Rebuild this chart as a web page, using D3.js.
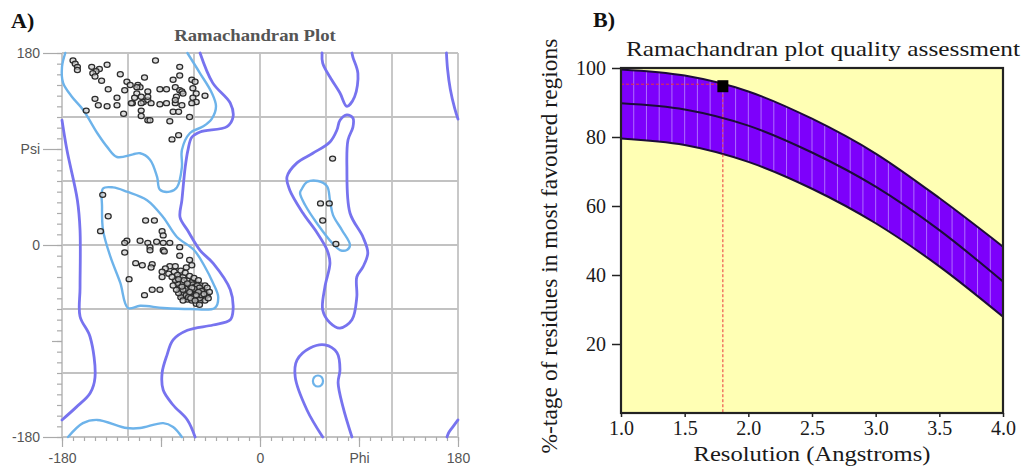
<!DOCTYPE html>
<html>
<head>
<meta charset="utf-8">
<script src="https://cdn.jsdelivr.net/npm/d3@7"></script>
<style>
  body { margin: 0; background: #fff; }
  svg { display: block; }
</style>
</head>
<body>
<svg id="fig" width="1028" height="473"></svg>
<script>
// ── Panel A data: Ramachandran contours (phi, psi in degrees) ─────────────
const allowedEdgeTopRight = [[169.5,180],[170.5,165],[173,146],[177,128],[180,118]];
const allowedEdgeLeft = [[-180,117],[-175.5,89],[-166,42],[-163.6,14],[-163.6,-40],[-163.6,-67],
  [-154.5,-86],[-150,-124],[-154.5,-139],[-167,-152],[-180,-164]];
const allowedEdgeBottomRight = [[180,-164],[175,-171],[171.5,-176],[170,-180]];
const allowedBetaRight = [[-54.5,180],[-43,152],[-27,133],[-24.5,120],[-30,111],[-54.5,106],[-62,101],
  [-65.5,89],[-68,73],[-71,42],[-72.7,26],[-66,14],[-54.5,-5],[-42.7,-17],[-27,-42],[-24.5,-61],
  [-27,-70],[-42.7,-75],[-66,-80],[-79,-89],[-84.5,-103],[-89,-120],[-88,-136],[-79,-150],[-66,-164],[-59,-180]];
const allowedGammaTop = [[56.4,180],[57,170.6],[63.6,157.5],[72.7,142.5],[79,130],[86,139],[89,161],[84.5,176],[83.6,180]];
const allowedGammaBottom = [[57,-180],[42.7,-154.7],[32,-123.7],[33.6,-108],[45.5,-96.6],[59,-93.7],
  [70,-101],[72.7,-117],[71,-129],[75.5,-152],[83.6,-180]];
const allowedLeftAlpha = [[79,122],[72.7,117],[70,108],[63.6,96.6],[48,86],[33.6,77],[24.5,63.7],[27,51.6],
  [39,30],[52,11.3],[61,-4.7],[63.6,-16.9],[59,-39.4],[57,-61],[63.6,-73],[72.7,-78],[83.6,-70],[88,-48.7],
  [88,-30],[93.6,-20.6],[98,-7.5],[93.6,7.5],[81.8,30],[79,73],[80,98.4],[84.5,110.6],[84.5,119]];

const coreBeta = [[-177,180],[-180,167],[-179,152],[-171,139],[-161,127],[-148,105],[-139,92],[-130,82.5],
  [-115.5,85],[-109,86],[-100,80],[-93.6,64],[-91,52],[-82,50],[-75.5,54],[-71,73],[-71,89],[-63.6,105],
  [-52,111],[-44,118],[-40,130],[-44,143],[-54.5,161],[-66,180]];
const coreBetaWrap = [[-174.5,-180],[-161,-167],[-148,-164],[-121,-171.6],[-109,-171.6],[-88,-167],[-79,-170.6],[-71,-180]];
const coreAlpha = [[-142.7,53],[-133.6,54],[-121,50],[-102.7,42],[-88,26],[-75.5,7.5],[-60,-4.7],[-50,-20.6],
  [-42.7,-35.6],[-38,-48.7],[-41,-59],[-63.6,-60],[-88,-59],[-109,-57],[-120,-59],[-127,-35.6],[-136,-11],
  [-142.7,14],[-143.6,35.6]];
const coreLeftAlpha = [[38,52.5],[42.7,59],[52.7,60],[61,55],[63.6,42],[66.4,28],[74.5,14],[81.8,0],[79,-4.7],
  [72.7,-4.7],[65.5,2],[52.7,19],[41,37.5],[36.4,48.7]];
const coreSmall = [[52.7,-127.5,4.6]];

// ── Panel A data: residues (phi, psi) ─────────────────────────────────────
const betaResidues = [[-170,173],[-168,170],[-166,167],[-166,164],[-153,167],[-139,169],[-146,165],[-149,163],
  [-152,161],[-150,158],[-144,154],[-127,160],[-95,173],[-73,167],[-73,159],[-79,155],[-62,155],[-59,153],
  [-105,157],[-121,153],[-118,150],[-111,150],[-109,148],[-138,146],[-123,145],[-112,142],[-102,144],[-91,146],
  [-85,146],[-77,148],[-73,145],[-71,144],[-58,142],[-50,140],[-150,137],[-147,131],[-139,130],[-130,138],
  [-130,131],[-124,123],[-116,133],[-114,138],[-108,139],[-106,134],[-102,136],[-99,133],[-91,132],[-108,126],
  [-108,121],[-102,117],[-100,117],[-82,116],[-77,133],[-76,139],[-71,131],[-79,125],[-74,125],[-64,120],
  [-61,138],[-58,134],[-158,126],[-80,99],[-74,103],[-112,148],[-117,133],[-108,133],[-102,139],[-85,133],
  [-77,136],[-62,133],[-61,147],[-70,142]];
const alphaResidues = [[-143,47],[-138,27],[-145,13],[-104,23],[-96,23],[-89,13],[-88,9],[-121,4],[-123,2],
  [-109,4],[-102,2],[-100,-2],[-94,3],[-88,2],[-82,2],[-88,-5],[-87,-6],[-100,-5],[-123,-7],[-73,-2],[-73,-10],
  [-113,-17],[-107,-19],[-98,-18],[-99,-21],[-82,-20],[-77,-20],[-86,-22],[-89,-25],[-83,-27],[-89,-30],
  [-64,-14],[-62,-19],[-67,-21],[-119,-32],[-98,-42],[-91,-42],[-105,-47],[-73,-30],[-76,-33],[-73,-39],[-71,-47]];
const helixCluster = [[-78,-25],[-75,-28],[-72,-24],[-70,-30],[-68,-26],[-66,-33],[-64,-29],[-62,-35],[-60,-31],
  [-58,-36],[-56,-33],[-54,-38],[-52,-41],[-50,-44],[-48,-47],[-50,-38],[-53,-45],[-55,-42],[-57,-40],[-59,-44],
  [-61,-41],[-63,-39],[-65,-37],[-67,-41],[-69,-38],[-71,-35],[-73,-40],[-75,-36],[-77,-33],[-66,-45],[-64,-47],
  [-62,-45],[-60,-48],[-58,-50],[-56,-47],[-54,-52],[-52,-49],[-60,-38],[-58,-42],[-62,-43],[-64,-42],[-66,-39],
  [-68,-44],[-70,-46],[-72,-49],[-66,-51],[-62,-52],[-58,-55],[-55,-56],[-50,-52],[-48,-40],[-46,-44],[-47,-50],
  [-70,-52],[-74,-45],[-76,-42],[-79,-38],[-80,-30],[-74,-32],[-69,-33],
  [-61,-37],[-59,-39],[-57,-38],[-55,-40],[-63,-41],[-61,-44],[-59,-46],[-57,-44],[-55,-45],[-53,-43],
  [-65,-43],[-63,-46],[-61,-49],[-57,-48],[-55,-50],[-53,-47],[-51,-46],[-67,-47],[-65,-49],[-63,-50],
  [-59,-52],[-60,-41],[-62,-40],[-56,-44],[-58,-47],[-64,-44],[-68,-41],[-66,-36],[-70,-42],[-71,-39]];
const leftHandedResidues = [[66,81],[55,39],[63,39],[57,23],[69,1]];

const psiTickLabels = [[180,"180"],[90,"Psi"],[0,"0"],[-180,"-180"]];
const phiTickLabels = [[-180,"-180"],[0,"0"],[90,"Phi"],[180,"180"]];

// ── Panel B data: quality assessment ──────────────────────────────────────
const resolution = [1.0, 1.5, 2.0, 2.5, 3.0, 3.5, 4.0];
const upperLimit = [99.6, 97.8, 93.2, 85.3, 75.2, 62.3, 48.2];
const meanLine   = [89.8, 88.0, 83.3, 75.5, 65.6, 53.0, 38.1];
const lowerLimit = [79.6, 77.7, 72.8, 65.0, 55.0, 42.5, 27.9];
const structureRes = 1.8;
const structurePct = 95.3;
const resTicks = [1.0, 1.5, 2.0, 2.5, 3.0, 3.5, 4.0];
const pctTicks = [20, 40, 60, 80, 100];

// ── Setup ─────────────────────────────────────────────────────────────────
const svg = d3.select("#fig");
const SERIF = "'Liberation Serif','Times New Roman',serif";
const SANS  = "'Liberation Sans',Arial,sans-serif";

function stretchText(parent, x, y, str, sx, attrs) {
  const t = parent.append("text")
    .attr("transform", `translate(${x},${y}) scale(${sx},1)`)
    .text(str);
  Object.entries(attrs).forEach(([k, v]) => t.attr(k, v));
  return t;
}

// ══ Panel A ═══════════════════════════════════════════════════════════════
const gA = svg.append("g");
const xA = d3.scaleLinear().domain([-180, 180]).range([62, 458]);
const yA = d3.scaleLinear().domain([-180, 180]).range([437, 53]);
const GRID = "#c2c2c2";

stretchText(gA, 11, 28, "A)", 1.1, {"font-family": SERIF, "font-size": 20, "font-weight": "bold", fill: "#111"});
stretchText(gA, 255, 41, "Ramachandran Plot", 1.17,
  {"font-family": SERIF, "font-size": 16, "font-weight": "bold", fill: "#555", "text-anchor": "middle"});

// grid every 60 degrees + frame
const gridVals = d3.range(-180, 181, 60);
gA.append("g").selectAll("line.v").data(gridVals).join("line")
  .attr("x1", d => xA(d)).attr("x2", d => xA(d))
  .attr("y1", yA(180)).attr("y2", yA(-180))
  .attr("stroke", GRID).attr("stroke-width", 1.8);
gA.append("g").selectAll("line.h").data(gridVals).join("line")
  .attr("x1", xA(-180)).attr("x2", xA(180))
  .attr("y1", d => yA(d)).attr("y2", d => yA(d))
  .attr("stroke", GRID).attr("stroke-width", 1.8);

// ticks
function styleAxis(g) {
  g.select(".domain").remove();
  g.selectAll("line").attr("stroke", "#aaa").attr("stroke-width", 1.2);
  g.selectAll("text").attr("fill", "#555").attr("font-family", SANS).attr("font-size", 14);
}
const tenths = d3.range(-180, 181, 10);
gA.append("g").attr("transform", `translate(${xA(-180)},0)`)
  .call(d3.axisLeft(yA).tickValues(tenths).tickSize(5).tickFormat("")).call(styleAxis);
gA.append("g").attr("transform", `translate(${xA(-180)},0)`)
  .call(d3.axisLeft(yA).tickValues([-90]).tickSize(10).tickFormat("")).call(styleAxis);
gA.append("g").attr("transform", `translate(${xA(-180)},0)`)
  .call(d3.axisLeft(yA).tickValues(psiTickLabels.map(d => d[0])).tickSize(19).tickPadding(3)
    .tickFormat(v => psiTickLabels.find(d => d[0] === v)[1])).call(styleAxis);

gA.append("g").attr("transform", `translate(0,${yA(-180)})`)
  .call(d3.axisBottom(xA).tickValues(tenths).tickSize(4).tickFormat("")).call(styleAxis);
gA.append("g").attr("transform", `translate(0,${yA(-180)})`)
  .call(d3.axisBottom(xA).tickValues([-90]).tickSize(10).tickFormat("")).call(styleAxis);
gA.append("g").attr("transform", `translate(0,${yA(-180)})`)
  .call(d3.axisBottom(xA).tickValues(phiTickLabels.map(d => d[0])).tickSize(10).tickPadding(6)
    .tickFormat(v => phiTickLabels.find(d => d[0] === v)[1])).call(styleAxis);

// contours
const ALLOWED = "#7773ef", CORE = "#6db3ea";
const openLine = d3.line().x(d => xA(d[0])).y(d => yA(d[1])).curve(d3.curveCatmullRom.alpha(0.5));
const closedLine = d3.line().x(d => xA(d[0])).y(d => yA(d[1])).curve(d3.curveCatmullRomClosed.alpha(0.5));

[allowedEdgeTopRight, allowedEdgeLeft, allowedEdgeBottomRight, allowedBetaRight, allowedGammaTop, allowedGammaBottom]
  .forEach(c => gA.append("path").attr("d", openLine(c)).attr("fill", "none")
    .attr("stroke", ALLOWED).attr("stroke-width", 2.8).attr("stroke-linecap", "round"));
gA.append("path").attr("d", closedLine(allowedLeftAlpha)).attr("fill", "none")
  .attr("stroke", ALLOWED).attr("stroke-width", 2.8);

[coreBeta, coreBetaWrap].forEach(c => gA.append("path").attr("d", openLine(c)).attr("fill", "none")
  .attr("stroke", CORE).attr("stroke-width", 2.4).attr("stroke-linecap", "round"));
[coreAlpha, coreLeftAlpha].forEach(c => gA.append("path").attr("d", closedLine(c)).attr("fill", "none")
  .attr("stroke", CORE).attr("stroke-width", 2.4));
gA.selectAll("ellipse.core").data(coreSmall).join("ellipse")
  .attr("cx", d => xA(d[0])).attr("cy", d => yA(d[1]))
  .attr("rx", d => xA(d[2]) - xA(0)).attr("ry", d => yA(0) - yA(d[2]) + 0.6)
  .attr("fill", "none").attr("stroke", CORE).attr("stroke-width", 2.2);

// residues
const residues = [...betaResidues, ...alphaResidues, ...helixCluster, ...leftHandedResidues];
gA.append("g").selectAll("ellipse").data(residues).join("ellipse")
  .attr("cx", d => xA(d[0])).attr("cy", d => yA(d[1]))
  .attr("rx", 3).attr("ry", 2.6)
  .attr("fill", "#cfcfcf").attr("fill-opacity", 0.7)
  .attr("stroke", "#2c2c2c").attr("stroke-width", 1.25);

// ══ Panel B ═══════════════════════════════════════════════════════════════
const gB = svg.append("g");
const xB = d3.scaleLinear().domain([1, 4]).range([621, 1003]);
const yB = d3.scaleLinear().domain([0, 100]).range([413, 68]);

stretchText(gB, 593, 27, "B)", 1.1, {"font-family": SERIF, "font-size": 20, "font-weight": "bold", fill: "#111"});
stretchText(gB, 823, 56, "Ramachandran plot quality assessment", 1.21,
  {"font-family": SERIF, "font-size": 21, fill: "#1a1a1a", "text-anchor": "middle"});

gB.append("rect").attr("x", xB(1)).attr("y", yB(100))
  .attr("width", xB(4) - xB(1)).attr("height", yB(0) - yB(100))
  .attr("fill", "#ffffb4");

const bandData = resolution.map((r, i) => ({ r, hi: upperLimit[i], mid: meanLine[i], lo: lowerLimit[i] }));
const curve = d3.curveMonotoneX;
const band = d3.area().x(d => xB(d.r)).y0(d => yB(d.lo)).y1(d => yB(d.hi)).curve(curve);

gB.append("clipPath").attr("id", "bandClip").append("path").attr("d", band(bandData));
gB.append("path").attr("d", band(bandData)).attr("fill", "#7d00fb");
gB.append("g").attr("clip-path", "url(#bandClip)")
  .selectAll("line").data(d3.range(1.1, 3.95, 0.1)).join("line")
  .attr("x1", d => xB(d)).attr("x2", d => xB(d))
  .attr("y1", yB(100)).attr("y2", yB(0))
  .attr("stroke", "#c49cff").attr("stroke-opacity", 0.7).attr("stroke-width", 1);

["hi", "mid", "lo"].forEach(k => {
  gB.append("path")
    .attr("d", d3.line().x(d => xB(d.r)).y(d => yB(d[k])).curve(curve)(bandData))
    .attr("fill", "none").attr("stroke", "#1c0c38").attr("stroke-width", 2);
});

// structure marker with dashed guides
gB.append("line").attr("x1", xB(1)).attr("x2", xB(structureRes))
  .attr("y1", yB(structurePct)).attr("y2", yB(structurePct))
  .attr("stroke", "#e8343c").attr("stroke-width", 1).attr("stroke-dasharray", "3,2");
gB.append("line").attr("x1", xB(structureRes)).attr("x2", xB(structureRes))
  .attr("y1", yB(structurePct)).attr("y2", yB(0))
  .attr("stroke", "#e8343c").attr("stroke-width", 1).attr("stroke-dasharray", "3,2");
gB.append("rect").attr("x", xB(structureRes) - 5.5).attr("y", yB(structurePct) - 4)
  .attr("width", 11).attr("height", 12).attr("fill", "#000");

// frame
gB.append("rect").attr("x", xB(1)).attr("y", yB(100))
  .attr("width", xB(4) - xB(1)).attr("height", yB(0) - yB(100))
  .attr("fill", "none").attr("stroke", "#222").attr("stroke-width", 2.2);

// axes
const yAxisB = gB.append("g").attr("transform", `translate(${xB(1)},0)`)
  .call(d3.axisLeft(yB).tickValues(pctTicks).tickSize(9).tickPadding(6));
const xAxisB = gB.append("g").attr("transform", `translate(0,${yB(0)})`)
  .call(d3.axisBottom(xB).tickValues(resTicks).tickSize(4).tickPadding(4).tickFormat(d3.format(".1f")));
[yAxisB, xAxisB].forEach(g => {
  g.select(".domain").remove();
  g.selectAll("line").attr("stroke", "#222").attr("stroke-width", 1.5);
  g.selectAll("text").attr("fill", "#1a1a1a").attr("font-family", SERIF).attr("font-size", 20);
});

stretchText(gB, 812, 461, "Resolution (Angstroms)", 1.23,
  {"font-family": SERIF, "font-size": 20, fill: "#1a1a1a", "text-anchor": "middle"});
gB.append("text")
  .attr("transform", `translate(557,246) rotate(-90)`)
  .attr("text-anchor", "middle")
  .attr("font-family", SERIF).attr("font-size", 23.5).attr("fill", "#1a1a1a")
  .text("%-tage of residues in most favoured regions");
</script>
</body>
</html>
